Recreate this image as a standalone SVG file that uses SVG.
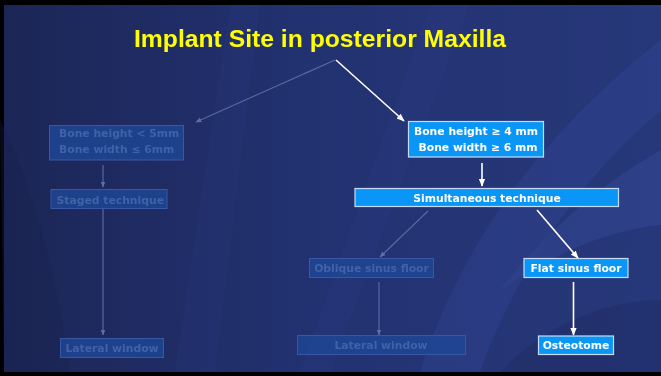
<svg xmlns="http://www.w3.org/2000/svg" width="661" height="376" viewBox="0 0 661 376">
<defs>
<linearGradient id="bg" x1="0" y1="0" x2="1" y2="0">
<stop offset="0" stop-color="#1c2656"/>
<stop offset="0.45" stop-color="#223170"/>
<stop offset="1" stop-color="#27387a"/>
</linearGradient>
<marker id="aw" viewBox="0 0 10 10" refX="9" refY="5" markerWidth="5" markerHeight="5" orient="auto"><path d="M0,1 L10,5 L0,9 z" fill="#ffffff"/></marker>
<marker id="af" viewBox="0 0 10 10" refX="9" refY="5" markerWidth="5" markerHeight="5" orient="auto"><path d="M0,1 L10,5 L0,9 z" fill="#5d70a6"/></marker>
<style>
.bright rect{fill:#0a96f6;stroke:#c6dcf4;stroke-width:1.2}
.bright text{fill:#ffffff;font-family:"DejaVu Sans",Verdana,sans-serif;font-weight:bold;font-size:10.8px}
.faded rect{fill:#1e4796;stroke:#3858a6;stroke-width:1;fill-opacity:0.8}
.faded text{fill:#4262a8;font-family:"DejaVu Sans",Verdana,sans-serif;font-weight:bold;font-size:10.8px}
.cw{stroke:#ffffff;stroke-width:1.6;fill:none;marker-end:url(#aw)}
.cf{stroke:#55699f;stroke-width:1.2;fill:none;marker-end:url(#af)}
</style>
</defs>
<rect x="0" y="0" width="661" height="376" fill="#000"/>
<rect x="4" y="5" width="657" height="367" fill="url(#bg)"/>
<g opacity="0.5">
<path d="M230,5 L260,5 L215,372 L175,372 Z" fill="#2a3a80" opacity="0.5"/>
<path d="M430,5 L470,5 L330,372 L300,372 Z" fill="#2c3d85" opacity="0.5"/>
<path d="M661,40 C560,120 470,220 420,372 L480,372 C520,260 590,170 661,110 Z" fill="#34489a" opacity="0.7"/>
<path d="M661,150 C590,190 540,240 500,290 C560,250 610,230 661,225 Z" fill="#3a50a2" opacity="0.7"/>
<path d="M661,300 C600,300 540,330 500,372 L661,372 Z" fill="#1a2658" opacity="0.6"/>
<path d="M0,120 C40,200 60,300 70,372 L4,372 Z" fill="#18214c" opacity="0.6"/>
</g>
<text x="320" y="47" text-anchor="middle" fill="#ffff00" font-family="'Liberation Sans',Arial,sans-serif" font-weight="bold" font-size="23" textLength="372" lengthAdjust="spacingAndGlyphs">Implant Site in posterior Maxilla</text>
<g id="connectors">
<path class="cf" d="M335,60 L196,122"/>
<path class="cw" d="M336,60 L404,121"/>
<path class="cf" d="M103,165 L103,187"/>
<path class="cf" d="M103,209 L103,335"/>
<path class="cw" d="M482,163 L482,186"/>
<path class="cf" d="M428,211 L380,257"/>
<path class="cw" d="M537,210 L578,258"/>
<path class="cf" d="M379,282 L379,335"/>
<path class="cw" d="M573.5,282 L573.5,335"/>
</g>
<g id="n_low" class="faded">
<rect x="49.5" y="125.5" width="134" height="34.5"/>
<text x="59" y="137">Bone height &lt; 5mm</text>
<text x="59" y="153">Bone width ≤ 6mm</text>
</g>
<g id="n_staged" class="faded">
<rect x="51" y="189.5" width="116" height="19"/>
<text x="56.5" y="203.5">Staged technique</text>
</g>
<g id="n_lat1" class="faded">
<rect x="60.5" y="338.5" width="103" height="19"/>
<text x="112" y="351.5" text-anchor="middle">Lateral window</text>
</g>
<g id="n_high" class="bright">
<rect x="408.5" y="121.5" width="135" height="35.5"/>
<text x="476" y="135" text-anchor="middle">Bone height ≥ 4 mm</text>
<text x="478" y="150.5" text-anchor="middle">Bone width ≥ 6 mm</text>
</g>
<g id="n_simul" class="bright">
<rect x="355" y="188.5" width="263.5" height="18"/>
<text x="487" y="201.5" text-anchor="middle">Simultaneous technique</text>
</g>
<g id="n_oblique" class="faded">
<rect x="309.5" y="258.5" width="124" height="19"/>
<text x="371.5" y="272" text-anchor="middle">Oblique sinus floor</text>
</g>
<g id="n_flat" class="bright">
<rect x="524" y="258.5" width="104" height="19"/>
<text x="576" y="272" text-anchor="middle">Flat sinus floor</text>
</g>
<g id="n_lat2" class="faded">
<rect x="297.5" y="335.5" width="168" height="19"/>
<text x="381" y="348.5" text-anchor="middle">Lateral window</text>
</g>
<g id="n_osteo" class="bright">
<rect x="538.5" y="336" width="75" height="18.5"/>
<text x="576" y="349" text-anchor="middle">Osteotome</text>
</g>
</svg>
